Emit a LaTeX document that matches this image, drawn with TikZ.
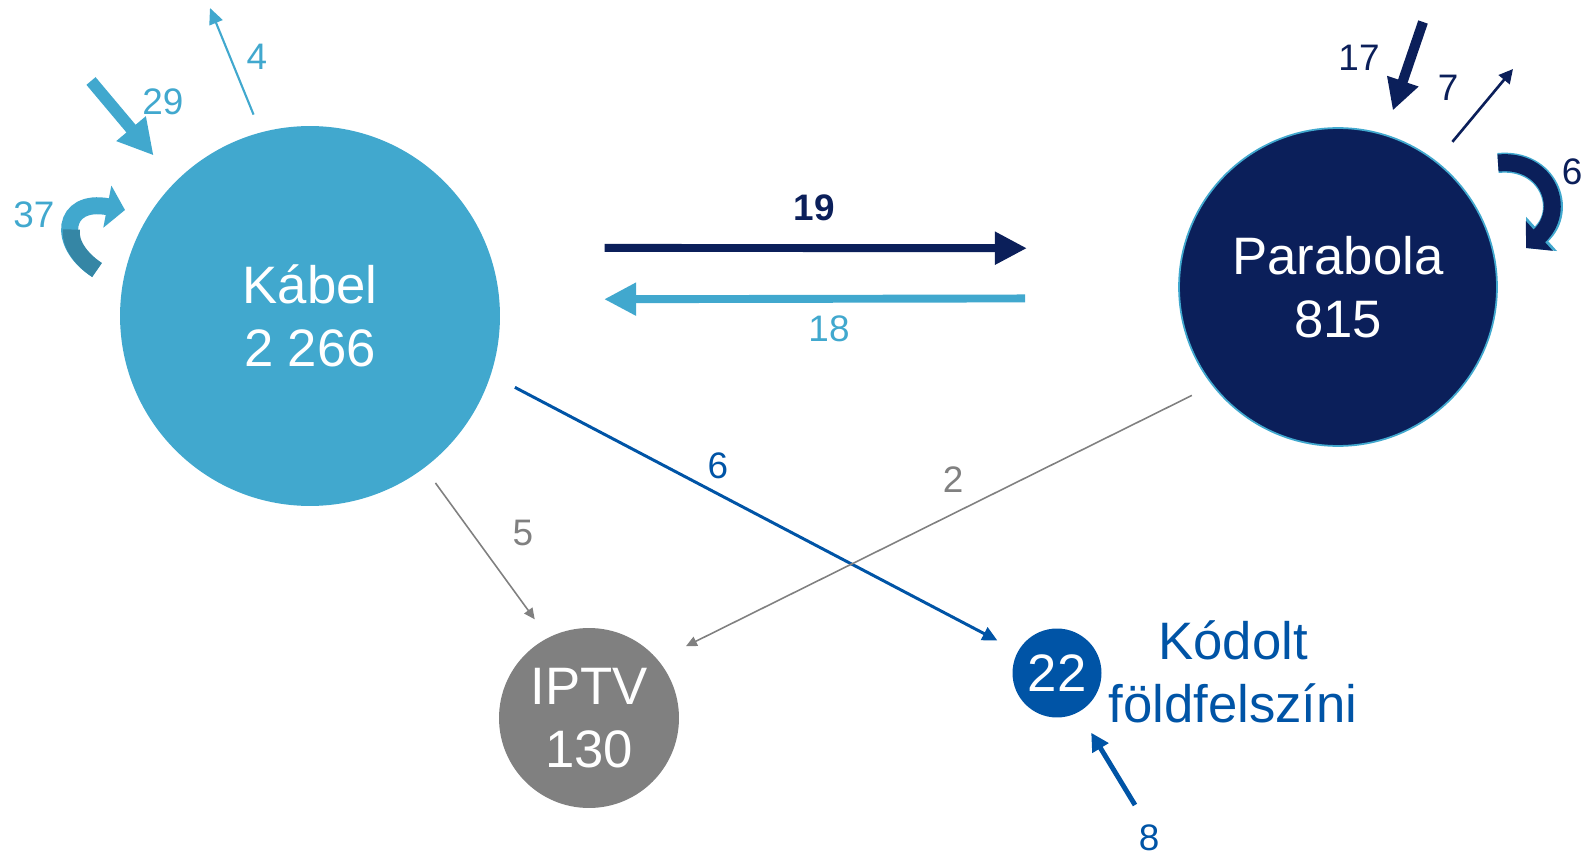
\documentclass[tikz,border=0pt]{standalone}
\usepackage{fontspec}
\setmainfont{Liberation Sans}
\usetikzlibrary{arrows.meta}
\definecolor{kabelkek}{HTML}{41A8CE}
\definecolor{kabelsotet}{HTML}{3586A5}
\definecolor{sotetkek}{HTML}{0B1F5A}
\definecolor{kodkek}{HTML}{0054A6}
\definecolor{szurke}{HTML}{808080}
\begin{document}
\begin{tikzpicture}[x=0.02cm, y=-0.02cm,
  kor/.style={circle, inner sep=0pt, text=white, align=center, font=\fontsize{30}{36}\selectfont},
  szam/.style={font=\fontsize{21}{25}\selectfont}]
\useasboundingbox (0,0) rectangle (1585,858);
% korok
\node[kor, fill=kabelkek, minimum size=7.6cm] (kabel) at (310,316) {Kábel\\2 266};
\node[kor, fill=sotetkek, draw=kabelkek, line width=1pt, minimum size=6.36cm] (parabola) at (1338,287) {Parabola\\815};
\node[kor, fill=szurke, minimum size=3.6cm] (iptv) at (589,718) {IPTV\\130};
\node[kor, fill=kodkek, minimum size=1.78cm] (kod) at (1057,673) {22};
\node[text=kodkek, align=center, font=\fontsize{30}{36}\selectfont] (kodnev) at (1233,672) {Kódolt\\földfelszíni};
% kabel <-> parabola
\draw[sotetkek, line width=4.5pt, -{Triangle[length=0.64cm,width=0.62cm]}, shorten <=2.34cm, shorten >=3.12cm] (kabel.21) -- (parabola.166);
\draw[kabelkek, line width=4.5pt, -{Triangle[length=0.64cm,width=0.62cm]}, shorten <=3.07cm, shorten >=2.09cm] (parabola.184.5) -- (kabel.5);
\node[szam, sotetkek, font=\bfseries\fontsize{21}{25}\selectfont] (n19) at (814,208) {19};
\node[szam, kabelkek] (n18) at (829,329) {18};
% kabel -> kodolt, iptv
\draw[kodkek, line width=1.7pt, -{Triangle[length=0.3cm,width=0.28cm]}, shorten <=0.54cm, shorten >=0.46cm] (kabel.-18) -- (kod.151);
\node[szam, kodkek] (n6k) at (718,466) {6};
\draw[szurke, line width=0.9pt, -{Triangle[length=0.22cm,width=0.2cm]}, shorten <=0.37cm, shorten >=0.45cm] (kabel.-53) -- (iptv.117.5);
\node[szam, szurke] (n5) at (523,533) {5};
\draw[szurke, line width=0.9pt, -{Triangle[length=0.22cm,width=0.2cm]}, shorten <=0.45cm, shorten >=0.62cm] (parabola.218) -- (iptv.40);
\node[szam, szurke] (n2) at (953,480) {2};
% kabel: be, ki, marad
\coordinate (ki4) at (210,8);
\draw[kabelkek, line width=1.2pt, -{Triangle[length=0.32cm,width=0.28cm]}, shorten <=0.38cm] (kabel.105) -- (ki4);
\node[szam, kabelkek] (n4) at (257,57) {4};
\coordinate (be29) at (91,81);
\draw[kabelkek, line width=6.8pt, -{Triangle[length=0.7cm,width=0.72cm]}, shorten >=0.68cm] (be29) -- (kabel.135);
\node[szam, kabelkek] (n29) at (163,102) {29};
\draw[kabelkek, line width=0.34cm, -{Triangle[length=0.36cm,width=0.84cm]}] (97,270) .. controls (56,244) and (62,198) .. (125,210);
\draw[kabelsotet, line width=0.34cm] (97,270) .. controls (79,258) and (69.7,242.2) .. (71.4,229.5);
\node[szam, kabelkek] (n37) at (34,215) {37};
% parabola: be, ki, marad
\coordinate (be17) at (1423,22);
\draw[sotetkek, line width=5.7pt, -{Triangle[length=0.62cm,width=0.62cm]}, shorten >=0.5cm] (be17) -- (parabola.73);
\node[szam, sotetkek] (n17) at (1359,58) {17};
\coordinate (ki7) at (1513,69);
\draw[sotetkek, line width=1.5pt, -{Triangle[length=0.28cm,width=0.28cm]}, shorten <=0.5cm] (parabola.52) -- (ki7);
\node[szam, sotetkek] (n7) at (1448,88) {7};
\draw[kabelkek, line width=0.4cm, -{Triangle[length=0.42cm,width=0.9cm]}] (1498,163) .. controls (1548,158) and (1568,210) .. (1526,248);
\draw[sotetkek, line width=0.34cm, -{Triangle[length=0.36cm,width=0.78cm]}] (1498,163) .. controls (1548,158) and (1568,210) .. (1526,248);
\node[szam, sotetkek] (n6p) at (1572,172) {6};
% kodolt: be
\coordinate (be8) at (1135,805);
\draw[kodkek, line width=2.8pt, -{Triangle[length=0.36cm,width=0.36cm]}, shorten >=0.48cm] (be8) -- (kod.-61);
\node[szam, kodkek] (n8) at (1149,838) {8};
\end{tikzpicture}
\end{document}
